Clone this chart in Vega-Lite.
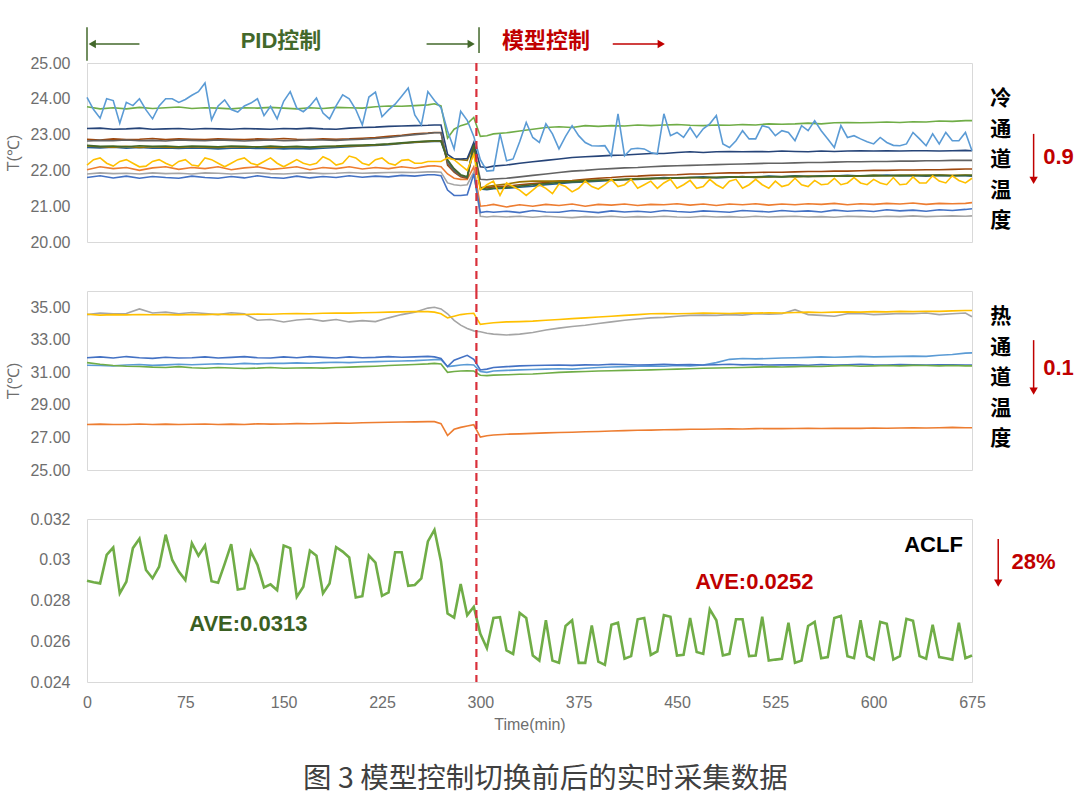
{
  "$schema": "https://vega.github.io/schema/vega-lite/v6.json",
  "background": "white",
  "padding": {"left": 4, "top": 25, "right": 2, "bottom": 10},
  "bounds": "flush",
  "spacing": 49,
  "title": {
    "text": "图 3  模型控制切换前后的实时采集数据",
    "orient": "bottom",
    "anchor": "middle",
    "font": "Noto Sans CJK SC",
    "fontSize": 28.5,
    "fontWeight": "normal",
    "color": "#404040",
    "offset": 32,
    "dx": 6
  },
  "config": {
    "view": {"stroke": "#d9d9d9", "strokeWidth": 1},
    "axis": {
      "domain": false, "ticks": false, "grid": false, "labelOverlap": false,
      "labelFont": "Liberation Sans", "labelFontSize": 16, "labelColor": "#6e6e6e",
      "titleFont": "Liberation Sans", "titleFontSize": 16, "titleColor": "#6e6e6e", "titleFontWeight": "normal"
    },
    "axisY": {"labelPadding": 17, "minExtent": 58, "maxExtent": 58, "titlePadding": 8, "format": ".2f"},
    "axisX": {"labelPadding": 12, "titlePadding": 6, "labelFlush": false}
  },
  "datasets": {
    "noisy": [
      {"t":0,"lb":24.04,"ye":22.15,"a":0.02897},{"t":5,"lb":23.7,"ye":22.3,"a":0.0289},{"t":10,"lb":23.46,"ye":22.35,"a":0.02884},
      {"t":15,"lb":24.0,"ye":22.2,"a":0.03024},{"t":20,"lb":23.95,"ye":22.12,"a":0.0306},{"t":25,"lb":23.32,"ye":22.25,"a":0.02835},
      {"t":30,"lb":23.9,"ye":22.3,"a":0.02892},{"t":35,"lb":23.81,"ye":22.2,"a":0.03057},{"t":40,"lb":24.0,"ye":22.1,"a":0.03103},
      {"t":45,"lb":23.69,"ye":22.12,"a":0.0295},{"t":50,"lb":23.44,"ye":22.25,"a":0.02909},{"t":55,"lb":23.8,"ye":22.3,"a":0.02966},
      {"t":60,"lb":24.0,"ye":22.2,"a":0.03123},{"t":65,"lb":24.0,"ye":22.12,"a":0.02999},{"t":70,"lb":23.9,"ye":22.25,"a":0.02942},
      {"t":75,"lb":23.98,"ye":22.3,"a":0.029},{"t":80,"lb":24.1,"ye":22.15,"a":0.03081},{"t":85,"lb":24.2,"ye":22.12,"a":0.0302},
      {"t":90,"lb":24.44,"ye":22.35,"a":0.0307},{"t":95,"lb":23.41,"ye":22.3,"a":0.02895},{"t":100,"lb":23.8,"ye":22.2,"a":0.02887},
      {"t":105,"lb":23.97,"ye":22.1,"a":0.0298},{"t":110,"lb":23.7,"ye":22.2,"a":0.03077},{"t":115,"lb":23.63,"ye":22.3,"a":0.02854},
      {"t":120,"lb":23.8,"ye":22.35,"a":0.02859},{"t":125,"lb":23.88,"ye":22.2,"a":0.0304},{"t":130,"lb":24.0,"ye":22.15,"a":0.02975},
      {"t":135,"lb":23.53,"ye":22.25,"a":0.02864},{"t":140,"lb":23.79,"ye":22.35,"a":0.02879},{"t":145,"lb":23.44,"ye":22.2,"a":0.02851},
      {"t":150,"lb":23.93,"ye":22.1,"a":0.0307},{"t":155,"lb":24.2,"ye":22.2,"a":0.03057},{"t":160,"lb":23.74,"ye":22.3,"a":0.02818},
      {"t":165,"lb":23.64,"ye":22.2,"a":0.02868},{"t":170,"lb":23.8,"ye":22.15,"a":0.03045},{"t":175,"lb":24.02,"ye":22.2,"a":0.0302},
      {"t":180,"lb":23.6,"ye":22.38,"a":0.02835},{"t":185,"lb":23.44,"ye":22.3,"a":0.02884},{"t":190,"lb":23.8,"ye":22.15,"a":0.03062},
      {"t":195,"lb":24.11,"ye":22.2,"a":0.0304},{"t":200,"lb":24.0,"ye":22.4,"a":0.03011},{"t":205,"lb":23.7,"ye":22.35,"a":0.02815},
      {"t":210,"lb":23.27,"ye":22.2,"a":0.02821},{"t":215,"lb":24.05,"ye":22.15,"a":0.0302},{"t":220,"lb":24.19,"ye":22.3,"a":0.02986},
      {"t":225,"lb":23.5,"ye":22.35,"a":0.02823},{"t":230,"lb":23.69,"ye":22.2,"a":0.0284},{"t":235,"lb":23.85,"ye":22.15,"a":0.03037},
      {"t":240,"lb":24.07,"ye":22.28,"a":0.03037},{"t":245,"lb":24.3,"ye":22.3,"a":0.02872},{"t":250,"lb":23.55,"ye":22.2,"a":0.02876},
      {"t":255,"lb":23.27,"ye":22.2,"a":0.02909},{"t":260,"lb":24.2,"ye":22.25,"a":0.0309},{"t":265,"lb":23.95,"ye":22.25,"a":0.03147},
      {"t":270,"lb":23.75,"ye":22.25,"a":0.02991},{"t":275,"lb":23.1,"ye":22.35,"a":0.02736},{"t":280,"lb":22.6,"ye":22.3,"a":0.02716},
      {"t":285,"lb":23.65,"ye":22.15,"a":0.02881},{"t":290,"lb":23.4,"ye":22.0,"a":0.02728},{"t":295,"lb":22.95,"ye":22.45,"a":0.02769},
      {"t":300,"lb":22.3,"ye":21.45,"a":0.02637},{"t":305,"lb":21.98,"ye":21.6,"a":0.02566},{"t":310,"lb":22.0,"ye":21.7,"a":0.02714},
      {"t":315,"lb":23.02,"ye":21.3,"a":0.02718},{"t":320,"lb":22.27,"ye":21.65,"a":0.02555},{"t":325,"lb":22.32,"ye":21.55,"a":0.02538},
      {"t":330,"lb":22.8,"ye":21.45,"a":0.02739},{"t":335,"lb":23.34,"ye":21.3,"a":0.02714},{"t":340,"lb":22.92,"ye":21.45,"a":0.0253},
      {"t":345,"lb":22.78,"ye":21.6,"a":0.02505},{"t":350,"lb":23.3,"ye":21.5,"a":0.02703},{"t":355,"lb":23.02,"ye":21.35,"a":0.02505},
      {"t":360,"lb":22.6,"ye":21.62,"a":0.02494},{"t":365,"lb":22.95,"ye":21.55,"a":0.02675},{"t":370,"lb":23.25,"ye":21.4,"a":0.02703},
      {"t":375,"lb":22.97,"ye":21.5,"a":0.02494},{"t":380,"lb":22.78,"ye":21.7,"a":0.02494},{"t":385,"lb":22.69,"ye":21.55,"a":0.02678},
      {"t":390,"lb":22.68,"ye":21.48,"a":0.025},{"t":395,"lb":22.69,"ye":21.6,"a":0.02484},{"t":400,"lb":22.41,"ye":21.75,"a":0.02681},
      {"t":405,"lb":23.58,"ye":21.55,"a":0.02691},{"t":410,"lb":22.41,"ye":21.6,"a":0.02514},{"t":415,"lb":22.6,"ye":21.75,"a":0.02527},
      {"t":420,"lb":22.62,"ye":21.5,"a":0.02708},{"t":425,"lb":22.6,"ye":21.6,"a":0.02714},{"t":430,"lb":22.5,"ye":21.7,"a":0.02533},
      {"t":435,"lb":22.46,"ye":21.5,"a":0.0255},{"t":440,"lb":23.58,"ye":21.65,"a":0.02728},{"t":445,"lb":22.97,"ye":21.75,"a":0.0272},
      {"t":450,"lb":23.06,"ye":21.5,"a":0.0253},{"t":455,"lb":22.92,"ye":21.6,"a":0.02533},{"t":460,"lb":23.2,"ye":21.72,"a":0.02714},
      {"t":465,"lb":22.92,"ye":21.5,"a":0.02547},{"t":470,"lb":23.16,"ye":21.55,"a":0.02538},{"t":475,"lb":23.3,"ye":21.75,"a":0.02757},
      {"t":480,"lb":23.53,"ye":21.6,"a":0.02703},{"t":485,"lb":22.74,"ye":21.5,"a":0.0253},{"t":490,"lb":22.64,"ye":21.7,"a":0.02538},
      {"t":495,"lb":22.83,"ye":21.75,"a":0.02708},{"t":500,"lb":23.11,"ye":21.5,"a":0.02708},{"t":505,"lb":22.88,"ye":21.6,"a":0.02527},
      {"t":510,"lb":22.88,"ye":21.75,"a":0.0253},{"t":515,"lb":23.25,"ye":21.6,"a":0.0272},{"t":520,"lb":23.2,"ye":21.5,"a":0.02505},
      {"t":525,"lb":22.97,"ye":21.7,"a":0.0251},{"t":530,"lb":23.11,"ye":21.55,"a":0.02514},{"t":535,"lb":23.06,"ye":21.6,"a":0.02691},
      {"t":540,"lb":22.83,"ye":21.78,"a":0.02494},{"t":545,"lb":23.25,"ye":21.6,"a":0.02505},{"t":550,"lb":23.11,"ye":21.55,"a":0.02675},
      {"t":555,"lb":23.39,"ye":21.72,"a":0.02695},{"t":560,"lb":23.11,"ye":21.6,"a":0.02517},{"t":565,"lb":22.88,"ye":21.62,"a":0.02522},
      {"t":570,"lb":22.64,"ye":21.78,"a":0.02714},{"t":575,"lb":23.25,"ye":21.6,"a":0.02724},{"t":580,"lb":22.92,"ye":21.65,"a":0.02527},
      {"t":585,"lb":22.97,"ye":21.8,"a":0.02517},{"t":590,"lb":22.88,"ye":21.65,"a":0.02703},{"t":595,"lb":22.8,"ye":21.6,"a":0.02527},
      {"t":600,"lb":22.74,"ye":21.75,"a":0.0251},{"t":605,"lb":22.92,"ye":21.65,"a":0.02695},{"t":610,"lb":22.78,"ye":21.6,"a":0.02686},
      {"t":615,"lb":22.7,"ye":21.8,"a":0.0251},{"t":620,"lb":22.69,"ye":21.6,"a":0.02527},{"t":625,"lb":22.74,"ye":21.62,"a":0.0271},
      {"t":630,"lb":23.06,"ye":21.82,"a":0.027},{"t":635,"lb":22.88,"ye":21.65,"a":0.02527},{"t":640,"lb":22.69,"ye":21.65,"a":0.02514},
      {"t":645,"lb":23.02,"ye":21.85,"a":0.02681},{"t":650,"lb":22.74,"ye":21.7,"a":0.02522},{"t":655,"lb":23.06,"ye":21.65,"a":0.02517},
      {"t":660,"lb":22.83,"ye":21.85,"a":0.0251},{"t":665,"lb":22.83,"ye":21.72,"a":0.02691},{"t":670,"lb":23.06,"ye":21.65,"a":0.02517},
      {"t":675,"lb":22.55,"ye":21.78,"a":0.0253}
    ],
    "smooth": [
      {"t":0,"gr":23.78,"nv":23.17,"dg":22.82,"do":22.87,"dk":22.7,"dy":22.68,"tl":22.64,"or":22.02,"lg":21.9,"bl":21.8,"hye":34.57,"hgy":34.55,"hbl":31.9,"hlb":31.44,"hgr":31.6,"hor":27.8},
      {"t":10,"gr":23.72,"nv":23.18,"dg":22.84,"do":22.85,"dk":22.67,"dy":22.66,"tl":22.63,"or":22.1,"lg":21.93,"bl":21.85,"hye":34.52,"hgy":34.65,"hbl":31.95,"hlb":31.42,"hgr":31.5,"hor":27.82},
      {"t":20,"gr":23.75,"nv":23.15,"dg":22.83,"do":22.88,"dk":22.68,"dy":22.65,"tl":22.65,"or":22.05,"lg":21.91,"bl":21.79,"hye":34.55,"hgy":34.6,"hbl":31.88,"hlb":31.4,"hgr":31.42,"hor":27.8},
      {"t":30,"gr":23.72,"nv":23.16,"dg":22.85,"do":22.86,"dk":22.66,"dy":22.67,"tl":22.62,"or":22.08,"lg":21.92,"bl":21.84,"hye":34.53,"hgy":34.62,"hbl":31.97,"hlb":31.45,"hgr":31.38,"hor":27.8},
      {"t":40,"gr":23.76,"nv":23.18,"dg":22.83,"do":22.87,"dk":22.69,"dy":22.64,"tl":22.64,"or":22.0,"lg":21.9,"bl":21.78,"hye":34.56,"hgy":34.9,"hbl":31.9,"hlb":31.48,"hgr":31.36,"hor":27.83},
      {"t":50,"gr":23.73,"nv":23.15,"dg":22.84,"do":22.89,"dk":22.67,"dy":22.66,"tl":22.62,"or":22.07,"lg":21.93,"bl":21.83,"hye":34.54,"hgy":34.65,"hbl":31.86,"hlb":31.43,"hgr":31.32,"hor":27.8},
      {"t":60,"gr":23.75,"nv":23.16,"dg":22.82,"do":22.86,"dk":22.68,"dy":22.65,"tl":22.63,"or":22.1,"lg":21.91,"bl":21.8,"hye":34.55,"hgy":34.7,"hbl":31.93,"hlb":31.46,"hgr":31.3,"hor":27.82},
      {"t":70,"gr":23.77,"nv":23.17,"dg":22.85,"do":22.88,"dk":22.66,"dy":22.64,"tl":22.61,"or":22.03,"lg":21.92,"bl":21.78,"hye":34.53,"hgy":34.6,"hbl":31.88,"hlb":31.5,"hgr":31.35,"hor":27.8},
      {"t":80,"gr":23.73,"nv":23.15,"dg":22.84,"do":22.87,"dk":22.68,"dy":22.66,"tl":22.63,"or":22.08,"lg":21.9,"bl":21.84,"hye":34.56,"hgy":34.68,"hbl":31.9,"hlb":31.47,"hgr":31.28,"hor":27.81},
      {"t":90,"gr":23.75,"nv":23.17,"dg":22.83,"do":22.86,"dk":22.67,"dy":22.65,"tl":22.62,"or":22.05,"lg":21.93,"bl":21.8,"hye":34.55,"hgy":34.62,"hbl":31.95,"hlb":31.5,"hgr":31.25,"hor":27.83},
      {"t":100,"gr":23.74,"nv":23.16,"dg":22.85,"do":22.88,"dk":22.66,"dy":22.64,"tl":22.6,"or":22.1,"lg":21.92,"bl":21.78,"hye":34.57,"hgy":34.55,"hbl":31.88,"hlb":31.53,"hgr":31.3,"hor":27.8},
      {"t":110,"gr":23.72,"nv":23.15,"dg":22.84,"do":22.87,"dk":22.68,"dy":22.66,"tl":22.62,"or":22.02,"lg":21.9,"bl":21.83,"hye":34.55,"hgy":34.66,"hbl":31.92,"hlb":31.5,"hgr":31.27,"hor":27.82},
      {"t":120,"gr":23.75,"nv":23.17,"dg":22.82,"do":22.86,"dk":22.67,"dy":22.65,"tl":22.63,"or":22.07,"lg":21.92,"bl":21.79,"hye":34.56,"hgy":34.6,"hbl":31.97,"hlb":31.55,"hgr":31.24,"hor":27.8},
      {"t":130,"gr":23.74,"nv":23.16,"dg":22.84,"do":22.88,"dk":22.65,"dy":22.66,"tl":22.61,"or":22.1,"lg":21.93,"bl":21.85,"hye":34.58,"hgy":34.2,"hbl":31.9,"hlb":31.52,"hgr":31.26,"hor":27.84},
      {"t":140,"gr":23.76,"nv":23.15,"dg":22.85,"do":22.87,"dk":22.68,"dy":22.64,"tl":22.62,"or":22.03,"lg":21.91,"bl":21.8,"hye":34.57,"hgy":34.25,"hbl":31.88,"hlb":31.56,"hgr":31.3,"hor":27.82},
      {"t":150,"gr":23.74,"nv":23.17,"dg":22.83,"do":22.89,"dk":22.66,"dy":22.65,"tl":22.6,"or":22.06,"lg":21.9,"bl":21.78,"hye":34.6,"hgy":34.1,"hbl":31.95,"hlb":31.55,"hgr":31.25,"hor":27.83},
      {"t":160,"gr":23.72,"nv":23.16,"dg":22.84,"do":22.87,"dk":22.67,"dy":22.66,"tl":22.61,"or":22.1,"lg":21.92,"bl":21.84,"hye":34.62,"hgy":34.22,"hbl":31.9,"hlb":31.58,"hgr":31.27,"hor":27.85},
      {"t":170,"gr":23.75,"nv":23.18,"dg":22.86,"do":22.86,"dk":22.65,"dy":22.64,"tl":22.6,"or":22.02,"lg":21.93,"bl":21.79,"hye":34.6,"hgy":34.28,"hbl":31.97,"hlb":31.56,"hgr":31.28,"hor":27.84},
      {"t":180,"gr":23.73,"nv":23.16,"dg":22.85,"do":22.88,"dk":22.67,"dy":22.66,"tl":22.62,"or":22.08,"lg":21.91,"bl":21.83,"hye":34.63,"hgy":34.15,"hbl":31.92,"hlb":31.6,"hgr":31.26,"hor":27.86},
      {"t":190,"gr":23.76,"nv":23.15,"dg":22.84,"do":22.87,"dk":22.68,"dy":22.67,"tl":22.64,"or":22.05,"lg":21.92,"bl":21.8,"hye":34.65,"hgy":34.25,"hbl":31.88,"hlb":31.62,"hgr":31.3,"hor":27.88},
      {"t":200,"gr":23.75,"nv":23.18,"dg":22.86,"do":22.88,"dk":22.7,"dy":22.68,"tl":22.66,"or":22.1,"lg":21.94,"bl":21.85,"hye":34.64,"hgy":34.1,"hbl":31.95,"hlb":31.6,"hgr":31.32,"hor":27.87},
      {"t":210,"gr":23.74,"nv":23.2,"dg":22.87,"do":22.9,"dk":22.71,"dy":22.69,"tl":22.68,"or":22.04,"lg":21.92,"bl":21.81,"hye":34.66,"hgy":34.18,"hbl":31.9,"hlb":31.64,"hgr":31.35,"hor":27.9},
      {"t":220,"gr":23.78,"nv":23.21,"dg":22.89,"do":22.92,"dk":22.72,"dy":22.71,"tl":22.7,"or":22.08,"lg":21.93,"bl":21.84,"hye":34.68,"hgy":34.12,"hbl":31.92,"hlb":31.66,"hgr":31.38,"hor":27.92},
      {"t":230,"gr":23.8,"nv":23.23,"dg":22.92,"do":22.95,"dk":22.74,"dy":22.73,"tl":22.72,"or":22.05,"lg":21.94,"bl":21.82,"hye":34.7,"hgy":34.35,"hbl":31.97,"hlb":31.68,"hgr":31.42,"hor":27.93},
      {"t":240,"gr":23.79,"nv":23.24,"dg":22.96,"do":22.98,"dk":22.77,"dy":22.76,"tl":22.75,"or":22.1,"lg":21.95,"bl":21.86,"hye":34.72,"hgy":34.55,"hbl":31.93,"hlb":31.7,"hgr":31.45,"hor":27.95},
      {"t":250,"gr":23.81,"nv":23.25,"dg":23.0,"do":23.02,"dk":22.8,"dy":22.79,"tl":22.78,"or":22.06,"lg":21.94,"bl":21.84,"hye":34.74,"hgy":34.7,"hbl":31.95,"hlb":31.72,"hgr":31.48,"hor":27.96},
      {"t":260,"gr":23.83,"nv":23.26,"dg":23.03,"do":23.04,"dk":22.82,"dy":22.81,"tl":22.8,"or":22.12,"lg":21.96,"bl":21.88,"hye":34.73,"hgy":34.95,"hbl":31.98,"hlb":31.76,"hgr":31.52,"hor":27.97},
      {"t":265,"gr":23.86,"nv":23.27,"dg":23.05,"do":23.06,"dk":22.83,"dy":22.82,"tl":22.81,"or":22.13,"lg":21.96,"bl":21.88,"hye":34.7,"hgy":35.0,"hbl":31.95,"hlb":31.78,"hgr":31.55,"hor":27.97},
      {"t":270,"gr":23.8,"nv":23.27,"dg":23.05,"do":23.06,"dk":22.83,"dy":22.82,"tl":22.81,"or":22.1,"lg":21.95,"bl":21.85,"hye":34.6,"hgy":34.9,"hbl":31.85,"hlb":31.8,"hgr":31.52,"hor":27.85},
      {"t":275,"gr":22.9,"nv":22.45,"dg":22.2,"do":22.15,"dk":22.3,"dy":22.35,"tl":22.28,"or":21.9,"lg":21.65,"bl":21.45,"hye":34.35,"hgy":34.6,"hbl":31.35,"hlb":31.35,"hgr":31.0,"hor":27.12},
      {"t":280,"gr":23.15,"nv":22.32,"dg":21.98,"do":21.95,"dk":22.05,"dy":22.32,"tl":22.0,"or":21.78,"lg":21.6,"bl":21.3,"hye":34.45,"hgy":34.2,"hbl":31.75,"hlb":31.4,"hgr":31.05,"hor":27.5},
      {"t":285,"gr":23.25,"nv":22.32,"dg":21.85,"do":21.82,"dk":21.88,"dy":22.3,"tl":21.86,"or":21.75,"lg":21.58,"bl":21.3,"hye":34.55,"hgy":33.9,"hbl":31.9,"hlb":31.45,"hgr":31.08,"hor":27.62},
      {"t":290,"gr":23.3,"nv":22.33,"dg":21.8,"do":21.78,"dk":21.82,"dy":22.28,"tl":21.8,"or":21.75,"lg":21.6,"bl":21.32,"hye":34.6,"hgy":33.7,"hbl":32.05,"hlb":31.48,"hgr":31.1,"hor":27.7},
      {"t":295,"gr":23.48,"nv":22.78,"dg":22.6,"do":22.65,"dk":22.72,"dy":22.7,"tl":22.75,"or":22.1,"lg":21.95,"bl":21.9,"hye":34.63,"hgy":33.55,"hbl":31.8,"hlb":31.45,"hgr":31.08,"hor":27.78},
      {"t":300,"gr":22.95,"nv":22.1,"dg":21.75,"do":21.52,"dk":21.5,"dy":21.5,"tl":21.48,"or":21.0,"lg":20.72,"bl":20.82,"hye":33.95,"hgy":33.5,"hbl":31.15,"hlb":31.05,"hgr":30.82,"hor":27.02},
      {"t":305,"gr":22.97,"nv":22.08,"dg":21.74,"do":21.52,"dk":21.48,"dy":21.55,"tl":21.46,"or":21.02,"lg":20.7,"bl":20.85,"hye":34.0,"hgy":33.4,"hbl":31.2,"hlb":31.0,"hgr":30.8,"hor":27.1},
      {"t":310,"gr":23.02,"nv":22.12,"dg":21.76,"do":21.54,"dk":21.5,"dy":21.58,"tl":21.49,"or":21.05,"lg":20.72,"bl":20.83,"hye":34.05,"hgy":33.35,"hbl":31.3,"hlb":31.08,"hgr":30.83,"hor":27.15},
      {"t":320,"gr":23.05,"nv":22.15,"dg":21.78,"do":21.56,"dk":21.52,"dy":21.62,"tl":21.5,"or":20.98,"lg":20.7,"bl":20.86,"hye":34.1,"hgy":33.3,"hbl":31.35,"hlb":31.12,"hgr":30.85,"hor":27.2},
      {"t":330,"gr":23.1,"nv":22.2,"dg":21.82,"do":21.6,"dk":21.56,"dy":21.68,"tl":21.53,"or":21.04,"lg":20.72,"bl":20.82,"hye":34.12,"hgy":33.35,"hbl":31.4,"hlb":31.15,"hgr":30.88,"hor":27.22},
      {"t":340,"gr":23.15,"nv":22.24,"dg":21.86,"do":21.63,"dk":21.6,"dy":21.7,"tl":21.56,"or":21.0,"lg":20.69,"bl":20.88,"hye":34.15,"hgy":33.45,"hbl":31.42,"hlb":31.18,"hgr":30.9,"hor":27.25},
      {"t":350,"gr":23.2,"nv":22.28,"dg":21.9,"do":21.66,"dk":21.63,"dy":21.7,"tl":21.6,"or":21.05,"lg":20.72,"bl":20.84,"hye":34.2,"hgy":33.6,"hbl":31.44,"hlb":31.2,"hgr":30.95,"hor":27.28},
      {"t":360,"gr":23.22,"nv":22.32,"dg":21.94,"do":21.7,"dk":21.66,"dy":21.7,"tl":21.63,"or":21.02,"lg":20.7,"bl":20.83,"hye":34.25,"hgy":33.72,"hbl":31.45,"hlb":31.22,"hgr":31.0,"hor":27.3},
      {"t":370,"gr":23.2,"nv":22.36,"dg":21.98,"do":21.72,"dk":21.68,"dy":21.7,"tl":21.66,"or":21.06,"lg":20.68,"bl":20.88,"hye":34.3,"hgy":33.82,"hbl":31.43,"hlb":31.2,"hgr":31.03,"hor":27.32},
      {"t":380,"gr":23.25,"nv":22.38,"dg":22.0,"do":21.75,"dk":21.7,"dy":21.72,"tl":21.68,"or":21.0,"lg":20.71,"bl":20.85,"hye":34.35,"hgy":33.9,"hbl":31.46,"hlb":31.25,"hgr":31.05,"hor":27.35},
      {"t":390,"gr":23.23,"nv":22.4,"dg":22.03,"do":21.78,"dk":21.72,"dy":21.73,"tl":21.7,"or":21.05,"lg":20.7,"bl":20.82,"hye":34.4,"hgy":34.0,"hbl":31.45,"hlb":31.3,"hgr":31.08,"hor":27.37},
      {"t":400,"gr":23.25,"nv":22.42,"dg":22.05,"do":21.8,"dk":21.73,"dy":21.74,"tl":21.72,"or":21.03,"lg":20.72,"bl":20.87,"hye":34.45,"hgy":34.1,"hbl":31.5,"hlb":31.33,"hgr":31.1,"hor":27.4},
      {"t":410,"gr":23.24,"nv":22.43,"dg":22.07,"do":21.83,"dk":21.75,"dy":21.75,"tl":21.74,"or":21.06,"lg":20.69,"bl":20.84,"hye":34.5,"hgy":34.2,"hbl":31.48,"hlb":31.35,"hgr":31.12,"hor":27.42},
      {"t":420,"gr":23.27,"nv":22.45,"dg":22.08,"do":21.84,"dk":21.76,"dy":21.77,"tl":21.75,"or":21.02,"lg":20.71,"bl":20.86,"hye":34.55,"hgy":34.28,"hbl":31.45,"hlb":31.38,"hgr":31.13,"hor":27.44},
      {"t":430,"gr":23.25,"nv":22.47,"dg":22.1,"do":21.86,"dk":21.77,"dy":21.78,"tl":21.77,"or":21.05,"lg":20.7,"bl":20.83,"hye":34.6,"hgy":34.35,"hbl":31.47,"hlb":31.4,"hgr":31.15,"hor":27.45},
      {"t":440,"gr":23.27,"nv":22.47,"dg":22.12,"do":21.87,"dk":21.78,"dy":21.77,"tl":21.8,"or":21.04,"lg":20.72,"bl":20.88,"hye":34.62,"hgy":34.38,"hbl":31.5,"hlb":31.38,"hgr":31.18,"hor":27.47},
      {"t":450,"gr":23.28,"nv":22.5,"dg":22.13,"do":21.88,"dk":21.79,"dy":21.79,"tl":21.78,"or":21.07,"lg":20.7,"bl":20.85,"hye":34.6,"hgy":34.45,"hbl":31.46,"hlb":31.42,"hgr":31.2,"hor":27.48},
      {"t":460,"gr":23.26,"nv":22.52,"dg":22.14,"do":21.9,"dk":21.8,"dy":21.8,"tl":21.8,"or":21.03,"lg":20.69,"bl":20.83,"hye":34.62,"hgy":34.5,"hbl":31.48,"hlb":31.4,"hgr":31.22,"hor":27.5},
      {"t":470,"gr":23.25,"nv":22.5,"dg":22.15,"do":21.9,"dk":21.8,"dy":21.79,"tl":21.82,"or":21.06,"lg":20.72,"bl":20.87,"hye":34.65,"hgy":34.52,"hbl":31.45,"hlb":31.45,"hgr":31.25,"hor":27.5},
      {"t":480,"gr":23.27,"nv":22.52,"dg":22.16,"do":21.92,"dk":21.81,"dy":21.8,"tl":21.79,"or":21.02,"lg":20.7,"bl":20.85,"hye":34.63,"hgy":34.5,"hbl":31.47,"hlb":31.6,"hgr":31.27,"hor":27.52},
      {"t":490,"gr":23.26,"nv":22.53,"dg":22.17,"do":21.93,"dk":21.82,"dy":21.81,"tl":21.81,"or":21.06,"lg":20.71,"bl":20.83,"hye":34.62,"hgy":34.55,"hbl":31.5,"hlb":31.8,"hgr":31.28,"hor":27.53},
      {"t":500,"gr":23.28,"nv":22.52,"dg":22.18,"do":21.93,"dk":21.81,"dy":21.82,"tl":21.83,"or":21.04,"lg":20.69,"bl":20.88,"hye":34.65,"hgy":34.52,"hbl":31.46,"hlb":31.85,"hgr":31.3,"hor":27.52},
      {"t":510,"gr":23.27,"nv":22.53,"dg":22.19,"do":21.94,"dk":21.82,"dy":21.8,"tl":21.8,"or":21.07,"lg":20.72,"bl":20.86,"hye":34.64,"hgy":34.6,"hbl":31.48,"hlb":31.83,"hgr":31.32,"hor":27.54},
      {"t":520,"gr":23.3,"nv":22.52,"dg":22.2,"do":21.95,"dk":21.83,"dy":21.82,"tl":21.84,"or":21.03,"lg":20.7,"bl":20.84,"hye":34.66,"hgy":34.58,"hbl":31.45,"hlb":31.85,"hgr":31.35,"hor":27.55},
      {"t":530,"gr":23.29,"nv":22.54,"dg":22.2,"do":21.95,"dk":21.82,"dy":21.83,"tl":21.82,"or":21.06,"lg":20.71,"bl":20.88,"hye":34.65,"hgy":34.6,"hbl":31.47,"hlb":31.88,"hgr":31.33,"hor":27.54},
      {"t":540,"gr":23.3,"nv":22.53,"dg":22.21,"do":21.96,"dk":21.84,"dy":21.82,"tl":21.85,"or":21.04,"lg":20.72,"bl":20.85,"hye":34.68,"hgy":34.85,"hbl":31.46,"hlb":31.9,"hgr":31.35,"hor":27.55},
      {"t":550,"gr":23.32,"nv":22.52,"dg":22.22,"do":21.97,"dk":21.83,"dy":21.84,"tl":21.83,"or":21.07,"lg":20.7,"bl":20.87,"hye":34.7,"hgy":34.55,"hbl":31.44,"hlb":31.92,"hgr":31.38,"hor":27.56},
      {"t":560,"gr":23.3,"nv":22.54,"dg":22.22,"do":21.97,"dk":21.84,"dy":21.83,"tl":21.85,"or":21.05,"lg":20.71,"bl":20.84,"hye":34.68,"hgy":34.5,"hbl":31.48,"hlb":31.95,"hgr":31.36,"hor":27.55},
      {"t":570,"gr":23.33,"nv":22.53,"dg":22.23,"do":21.98,"dk":21.85,"dy":21.84,"tl":21.84,"or":21.08,"lg":20.69,"bl":20.89,"hye":34.7,"hgy":34.45,"hbl":31.45,"hlb":31.93,"hgr":31.4,"hor":27.56},
      {"t":580,"gr":23.34,"nv":22.54,"dg":22.24,"do":21.98,"dk":21.84,"dy":21.85,"tl":21.86,"or":21.04,"lg":20.72,"bl":20.86,"hye":34.72,"hgy":34.6,"hbl":31.47,"hlb":31.95,"hgr":31.42,"hor":27.57},
      {"t":590,"gr":23.33,"nv":22.55,"dg":22.24,"do":21.99,"dk":21.85,"dy":21.84,"tl":21.84,"or":21.07,"lg":20.71,"bl":20.88,"hye":34.7,"hgy":34.62,"hbl":31.5,"hlb":31.98,"hgr":31.38,"hor":27.56},
      {"t":600,"gr":23.34,"nv":22.54,"dg":22.25,"do":22.0,"dk":21.86,"dy":21.86,"tl":21.85,"or":21.05,"lg":20.7,"bl":20.85,"hye":34.73,"hgy":34.55,"hbl":31.46,"hlb":31.95,"hgr":31.4,"hor":27.58},
      {"t":610,"gr":23.35,"nv":22.55,"dg":22.25,"do":22.0,"dk":21.85,"dy":21.85,"tl":21.87,"or":21.08,"lg":20.72,"bl":20.9,"hye":34.72,"hgy":34.58,"hbl":31.45,"hlb":31.97,"hgr":31.42,"hor":27.57},
      {"t":620,"gr":23.34,"nv":22.54,"dg":22.26,"do":22.01,"dk":21.86,"dy":21.86,"tl":21.85,"or":21.06,"lg":20.71,"bl":20.87,"hye":34.75,"hgy":34.62,"hbl":31.48,"hlb":31.98,"hgr":31.4,"hor":27.58},
      {"t":630,"gr":23.36,"nv":22.55,"dg":22.26,"do":22.01,"dk":21.85,"dy":21.87,"tl":21.86,"or":21.09,"lg":20.73,"bl":20.89,"hye":34.73,"hgy":34.6,"hbl":31.46,"hlb":32.0,"hgr":31.43,"hor":27.6},
      {"t":640,"gr":23.35,"nv":22.55,"dg":22.27,"do":22.02,"dk":21.86,"dy":21.86,"tl":21.84,"or":21.05,"lg":20.71,"bl":20.86,"hye":34.76,"hgy":34.65,"hbl":31.45,"hlb":31.98,"hgr":31.42,"hor":27.58},
      {"t":650,"gr":23.38,"nv":22.54,"dg":22.27,"do":22.02,"dk":21.86,"dy":21.87,"tl":21.86,"or":21.08,"lg":20.72,"bl":20.9,"hye":34.75,"hgy":34.55,"hbl":31.47,"hlb":32.05,"hgr":31.4,"hor":27.6},
      {"t":660,"gr":23.37,"nv":22.55,"dg":22.28,"do":22.03,"dk":21.85,"dy":21.86,"tl":21.85,"or":21.07,"lg":20.73,"bl":20.88,"hye":34.78,"hgy":34.6,"hbl":31.46,"hlb":32.1,"hgr":31.42,"hor":27.62},
      {"t":670,"gr":23.39,"nv":22.56,"dg":22.28,"do":22.04,"dk":21.86,"dy":21.87,"tl":21.85,"or":21.08,"lg":20.72,"bl":20.91,"hye":34.8,"hgy":34.65,"hbl":31.45,"hlb":32.18,"hgr":31.4,"hor":27.6},
      {"t":675,"gr":23.39,"nv":22.55,"dg":22.28,"do":22.04,"dk":21.86,"dy":21.86,"tl":21.84,"or":21.1,"lg":20.73,"bl":20.93,"hye":34.8,"hgy":34.42,"hbl":31.45,"hlb":32.2,"hgr":31.4,"hor":27.6}
    ]
  },
  "resolve": {"scale": {"color": "independent", "y": "independent"}},
  "vconcat": [
    {
      "width": 885,
      "height": 179,
      "layer": [
        {
          "data": {"name": "smooth"},
          "transform": [
            {"fold": ["or", "lg", "bl", "gr", "tl", "do", "dg", "dy", "nv", "dk"], "as": ["s", "v"]},
            {"filter": "isValid(datum.v)"}
          ],
          "mark": {"type": "line", "strokeWidth": 1.6},
          "encoding": {
            "x": {"field": "t", "type": "quantitative", "scale": {"domain": [0, 675], "nice": false}, "axis": null},
            "y": {"field": "v", "type": "quantitative", "scale": {"domain": [20, 25], "nice": false, "zero": false},
                  "axis": {"title": "T(℃)", "values": [20, 21, 22, 23, 24, 25]}},
            "color": {"field": "s", "type": "nominal", "legend": null,
              "scale": {"domain": ["lb", "or", "lg", "ye", "bl", "gr", "tl", "do", "dg", "dy", "nv", "dk"],
                        "range": ["#5B9BD5", "#ED7D31", "#A5A5A5", "#FFC000", "#4472C4", "#70AD47", "#255E91", "#9E480E", "#636363", "#997300", "#264478", "#43682B"]}}
          }
        },
        {
          "data": {"name": "noisy"},
          "transform": [{"fold": ["ye", "lb"], "as": ["s", "v"]}],
          "mark": {"type": "line", "strokeWidth": 1.6},
          "encoding": {
            "x": {"field": "t", "type": "quantitative"},
            "y": {"field": "v", "type": "quantitative", "axis": {"title": "T(℃)", "values": [20, 21, 22, 23, 24, 25]}},
            "color": {"field": "s", "type": "nominal", "legend": null}
          }
        },
        {
          "data": {"values": [{}]},
          "mark": {"type": "rule", "color": "#d9303a", "strokeWidth": 2.2, "strokeDash": [8, 5]},
          "encoding": {"x": {"datum": 297}, "y": {"datum": 25, "axis": {"title": "T(℃)", "values": [20, 21, 22, 23, 24, 25]}}, "y2": {"datum": 18.63}}
        },
        {
          "data": {"values": [{}]},
          "mark": {"type": "text", "text": "PID控制", "font": "Liberation Sans, Noto Sans CJK SC", "fontSize": 22, "fontWeight": "bold", "color": "#43682B"},
          "encoding": {"x": {"datum": 148}, "y": {"datum": 25.61, "axis": {"title": "T(℃)", "values": [20, 21, 22, 23, 24, 25]}}}
        },
        {
          "data": {"values": [{}]},
          "mark": {"type": "rule", "color": "#43682B", "strokeWidth": 1.5},
          "encoding": {"x": {"datum": 3}, "x2": {"datum": 40}, "y": {"datum": 25.53, "axis": {"title": "T(℃)", "values": [20, 21, 22, 23, 24, 25]}}}
        },
        {
          "data": {"values": [{}]},
          "mark": {"type": "point", "shape": "triangle-left", "filled": true, "size": 70, "color": "#43682B", "opacity": 1},
          "encoding": {"x": {"datum": 4}, "y": {"datum": 25.53, "axis": {"title": "T(℃)", "values": [20, 21, 22, 23, 24, 25]}}}
        },
        {
          "data": {"values": [{}]},
          "mark": {"type": "rule", "color": "#43682B", "strokeWidth": 1.5},
          "encoding": {"x": {"datum": 259}, "x2": {"datum": 294}, "y": {"datum": 25.53, "axis": {"title": "T(℃)", "values": [20, 21, 22, 23, 24, 25]}}}
        },
        {
          "data": {"values": [{}]},
          "mark": {"type": "point", "shape": "triangle-right", "filled": true, "size": 70, "color": "#43682B", "opacity": 1},
          "encoding": {"x": {"datum": 293}, "y": {"datum": 25.53, "axis": {"title": "T(℃)", "values": [20, 21, 22, 23, 24, 25]}}}
        },
        {
          "data": {"values": [{}]},
          "mark": {"type": "rule", "color": "#43682B", "strokeWidth": 1.5},
          "encoding": {"x": {"datum": 0}, "y": {"datum": 26.0, "axis": {"title": "T(℃)", "values": [20, 21, 22, 23, 24, 25]}}, "y2": {"datum": 25.06}}
        },
        {
          "data": {"values": [{}]},
          "mark": {"type": "rule", "color": "#43682B", "strokeWidth": 1.5},
          "encoding": {"x": {"datum": 299}, "y": {"datum": 26.0, "axis": {"title": "T(℃)", "values": [20, 21, 22, 23, 24, 25]}}, "y2": {"datum": 25.28}}
        },
        {
          "data": {"values": [{}]},
          "mark": {"type": "text", "text": "模型控制", "font": "Noto Sans CJK SC", "fontSize": 22, "fontWeight": "bold", "color": "#c00000"},
          "encoding": {"x": {"datum": 350}, "y": {"datum": 25.61, "axis": {"title": "T(℃)", "values": [20, 21, 22, 23, 24, 25]}}}
        },
        {
          "data": {"values": [{}]},
          "mark": {"type": "rule", "color": "#c00000", "strokeWidth": 1.5},
          "encoding": {"x": {"datum": 401}, "x2": {"datum": 439}, "y": {"datum": 25.53, "axis": {"title": "T(℃)", "values": [20, 21, 22, 23, 24, 25]}}}
        },
        {
          "data": {"values": [{}]},
          "mark": {"type": "point", "shape": "triangle-right", "filled": true, "size": 70, "color": "#c00000", "opacity": 1},
          "encoding": {"x": {"datum": 438}, "y": {"datum": 25.53, "axis": {"title": "T(℃)", "values": [20, 21, 22, 23, 24, 25]}}}
        },
        {
          "data": {"values": [{}]},
          "mark": {"type": "text", "text": ["冷", "通", "道", "温", "度"], "lineHeight": 30.5, "baseline": "middle", "font": "Noto Sans CJK SC", "fontSize": 21, "fontWeight": "bold", "color": "#000000"},
          "encoding": {"x": {"datum": 697}, "y": {"datum": 23.99, "axis": {"title": "T(℃)", "values": [20, 21, 22, 23, 24, 25]}}}
        },
        {
          "data": {"values": [{}]},
          "mark": {"type": "rule", "color": "#c00000", "strokeWidth": 1.5},
          "encoding": {"x": {"datum": 722}, "y": {"datum": 23.02, "axis": {"title": "T(℃)", "values": [20, 21, 22, 23, 24, 25]}}, "y2": {"datum": 21.75}}
        },
        {
          "data": {"values": [{}]},
          "mark": {"type": "point", "shape": "triangle-down", "filled": true, "size": 70, "color": "#c00000", "opacity": 1},
          "encoding": {"x": {"datum": 722}, "y": {"datum": 21.72, "axis": {"title": "T(℃)", "values": [20, 21, 22, 23, 24, 25]}}}
        },
        {
          "data": {"values": [{}]},
          "mark": {"type": "text", "text": "0.9", "font": "Liberation Sans", "fontSize": 22, "fontWeight": "bold", "color": "#c00000"},
          "encoding": {"x": {"datum": 741}, "y": {"datum": 22.37, "axis": {"title": "T(℃)", "values": [20, 21, 22, 23, 24, 25]}}}
        }
      ]
    },
    {
      "width": 885,
      "height": 179,
      "layer": [
        {
          "data": {"name": "smooth"},
          "transform": [
            {"fold": ["hlb", "hor", "hgy", "hye", "hbl", "hgr"], "as": ["s", "v"]},
            {"filter": "isValid(datum.v)"}
          ],
          "mark": {"type": "line", "strokeWidth": 1.6},
          "encoding": {
            "x": {"field": "t", "type": "quantitative", "scale": {"domain": [0, 675], "nice": false}, "axis": null},
            "y": {"field": "v", "type": "quantitative", "scale": {"domain": [25, 36], "nice": false, "zero": false},
                  "axis": {"title": "T(℃)", "values": [25, 27, 29, 31, 33, 35]}},
            "color": {"field": "s", "type": "nominal", "legend": null,
              "scale": {"domain": ["hlb", "hor", "hgy", "hye", "hbl", "hgr"],
                        "range": ["#5B9BD5", "#ED7D31", "#A5A5A5", "#FFC000", "#4472C4", "#70AD47"]}}
          }
        },
        {
          "data": {"values": [{}]},
          "mark": {"type": "rule", "color": "#d9303a", "strokeWidth": 2.2, "strokeDash": [8, 5]},
          "encoding": {"x": {"datum": 297}, "y": {"datum": 36, "axis": {"title": "T(℃)", "values": [25, 27, 29, 31, 33, 35]}}, "y2": {"datum": 22.0}}
        },
        {
          "data": {"values": [{}]},
          "mark": {"type": "text", "text": ["热", "通", "道", "温", "度"], "lineHeight": 30.5, "baseline": "middle", "font": "Noto Sans CJK SC", "fontSize": 21, "fontWeight": "bold", "color": "#000000"},
          "encoding": {"x": {"datum": 697}, "y": {"datum": 34.39, "axis": {"title": "T(℃)", "values": [25, 27, 29, 31, 33, 35]}}}
        },
        {
          "data": {"values": [{}]},
          "mark": {"type": "rule", "color": "#c00000", "strokeWidth": 1.5},
          "encoding": {"x": {"datum": 722}, "y": {"datum": 32.98, "axis": {"title": "T(℃)", "values": [25, 27, 29, 31, 33, 35]}}, "y2": {"datum": 29.9}}
        },
        {
          "data": {"values": [{}]},
          "mark": {"type": "point", "shape": "triangle-down", "filled": true, "size": 70, "color": "#c00000", "opacity": 1},
          "encoding": {"x": {"datum": 722}, "y": {"datum": 29.85, "axis": {"title": "T(℃)", "values": [25, 27, 29, 31, 33, 35]}}}
        },
        {
          "data": {"values": [{}]},
          "mark": {"type": "text", "text": "0.1", "font": "Liberation Sans", "fontSize": 22, "fontWeight": "bold", "color": "#c00000"},
          "encoding": {"x": {"datum": 741}, "y": {"datum": 31.26, "axis": {"title": "T(℃)", "values": [25, 27, 29, 31, 33, 35]}}}
        }
      ]
    },
    {
      "width": 885,
      "height": 163,
      "layer": [
        {
          "data": {"name": "noisy"},
          "mark": {"type": "line", "strokeWidth": 2.6, "color": "#70AD47"},
          "encoding": {
            "x": {"field": "t", "type": "quantitative", "scale": {"domain": [0, 675], "nice": false},
                  "axis": {"title": "Time(min)", "values": [0, 75, 150, 225, 300, 375, 450, 525, 600, 675]}},
            "y": {"field": "a", "type": "quantitative", "scale": {"domain": [0.024, 0.032], "nice": false, "zero": false},
                  "axis": {"title": null, "values": [0.024, 0.026, 0.028, 0.03, 0.032], "format": ".3~f"}}
          }
        },
        {
          "data": {"values": [{}]},
          "mark": {"type": "rule", "color": "#d9303a", "strokeWidth": 2.2, "strokeDash": [8, 5]},
          "encoding": {"x": {"datum": 297}, "y": {"datum": 0.032}, "y2": {"datum": 0.024}}
        },
        {
          "data": {"values": [{}]},
          "mark": {"type": "text", "text": "ACLF", "align": "right", "font": "Liberation Sans", "fontSize": 22, "fontWeight": "bold", "color": "#000000"},
          "encoding": {"x": {"datum": 668}, "y": {"datum": 0.03072}}
        },
        {
          "data": {"values": [{}]},
          "mark": {"type": "text", "text": "AVE:0.0252", "font": "Liberation Sans", "fontSize": 22, "fontWeight": "bold", "color": "#c00000"},
          "encoding": {"x": {"datum": 509}, "y": {"datum": 0.02891}}
        },
        {
          "data": {"values": [{}]},
          "mark": {"type": "text", "text": "AVE:0.0313", "font": "Liberation Sans", "fontSize": 22, "fontWeight": "bold", "color": "#3a5f22"},
          "encoding": {"x": {"datum": 123}, "y": {"datum": 0.02685}}
        },
        {
          "data": {"values": [{}]},
          "mark": {"type": "rule", "color": "#c00000", "strokeWidth": 1.5},
          "encoding": {"x": {"datum": 695}, "y": {"datum": 0.03102}, "y2": {"datum": 0.0289}}
        },
        {
          "data": {"values": [{}]},
          "mark": {"type": "point", "shape": "triangle-down", "filled": true, "size": 70, "color": "#c00000", "opacity": 1},
          "encoding": {"x": {"datum": 695}, "y": {"datum": 0.02885}}
        },
        {
          "data": {"values": [{}]},
          "mark": {"type": "text", "text": "28%", "font": "Liberation Sans", "fontSize": 22, "fontWeight": "bold", "color": "#c00000"},
          "encoding": {"x": {"datum": 722}, "y": {"datum": 0.02989}}
        }
      ]
    }
  ]
}
